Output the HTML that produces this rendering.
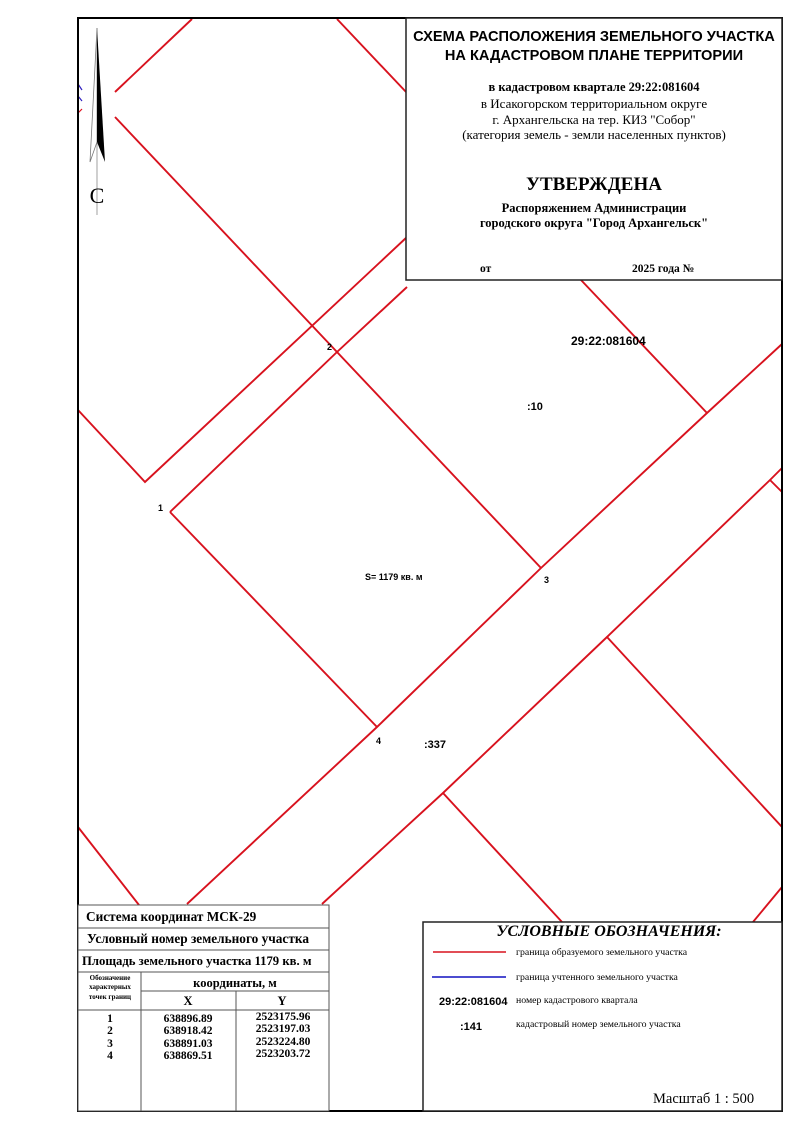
<!DOCTYPE html>
<html><head><meta charset="utf-8"><style>
html,body{margin:0;padding:0;background:#fff;}
svg{display:block;}
.s{font-family:"Liberation Serif",serif;}
.a{font-family:"Liberation Sans",sans-serif;}
</style></head><body>
<svg width="800" height="1131" viewBox="0 0 800 1131" xmlns="http://www.w3.org/2000/svg">
<rect width="800" height="1131" fill="#fff"/>
<g stroke="#d8121e" stroke-width="1.9" fill="none">
<line x1="115" y1="92" x2="192" y2="19"/>
<polyline points="115,117 337,352 541,568"/>
<line x1="337" y1="19" x2="407" y2="93"/>
<polyline points="78,410 145,482 407,237"/>
<polyline points="170,512 337,352 407,287"/>
<polyline points="170,512 377,727"/>
<polyline points="187,904 377,727 541,568 707,413 782,344"/>
<line x1="581" y1="280" x2="707" y2="413"/>
<polyline points="322,904 443,793 607,637 770,480 782,468"/>
<line x1="770" y1="480" x2="782" y2="492"/>
<line x1="607" y1="637" x2="782" y2="827"/>
<line x1="443" y1="793" x2="562" y2="922"/>
<line x1="782" y1="887" x2="753" y2="922"/>
<line x1="78" y1="827" x2="139" y2="905"/>
</g>
<g stroke="#3020c0" stroke-width="1.2" fill="none">
<path d="M78,84 L82,90"/><path d="M78,96 L82,101"/>
</g>
<path d="M78,113 L82,109" stroke="#e0101e" stroke-width="1.2"/>
<line x1="97" y1="28" x2="97" y2="215" stroke="#888" stroke-width="0.8"/>
<polygon points="97,28 105,162 97,142" fill="#000"/>
<polyline points="97,28 90,162 97,142" fill="none" stroke="#777" stroke-width="0.8"/>
<text x="97" y="203" class="s" font-size="22" text-anchor="middle">С</text>
<rect x="78" y="18" width="704" height="1093" fill="none" stroke="#000" stroke-width="2"/>
<rect x="406" y="18" width="376" height="262" fill="#fff" stroke="#222" stroke-width="1.5"/>
<g text-anchor="middle">
<text x="594" y="41" class="a" font-size="14.6" font-weight="bold">СХЕМА РАСПОЛОЖЕНИЯ ЗЕМЕЛЬНОГО УЧАСТКА</text>
<text x="594" y="60" class="a" font-size="14.6" font-weight="bold">НА КАДАСТРОВОМ ПЛАНЕ ТЕРРИТОРИИ</text>
<text x="594" y="91" class="s" font-size="12.5" font-weight="bold">в кадастровом квартале 29:22:081604</text>
<text x="594" y="108" class="s" font-size="13">в Исакогорском территориальном округе</text>
<text x="594" y="124" class="s" font-size="13">г. Архангельска на тер. КИЗ "Собор"</text>
<text x="594" y="139" class="s" font-size="13">(категория земель - земли населенных пунктов)</text>
<text x="594" y="190" class="s" font-size="19" font-weight="bold">УТВЕРЖДЕНА</text>
<text x="594" y="212" class="s" font-size="12.5" font-weight="bold">Распоряжением Администрации</text>
<text x="594" y="227" class="s" font-size="12.5" font-weight="bold">городского округа "Город Архангельск"</text>
</g>
<text x="480" y="272" class="s" font-size="11.5" font-weight="bold">от</text>
<text x="632" y="272" class="s" font-size="11.5" font-weight="bold">2025 года №</text>
<g class="a" font-size="9" font-weight="bold">
<text x="327" y="350">2</text>
<text x="158" y="511">1</text>
<text x="544" y="583">3</text>
<text x="376" y="744">4</text>
<text x="365" y="580">S= 1179 кв. м</text>
</g>
<text x="571" y="345" class="a" font-size="12" font-weight="bold">29:22:081604</text>
<text x="527" y="410" class="a" font-size="11" font-weight="bold">:10</text>
<text x="424" y="748" class="a" font-size="11" font-weight="bold">:337</text>
<rect x="78" y="905" width="251" height="206" fill="#fff" stroke="#555" stroke-width="1"/>
<g stroke="#555" stroke-width="1">
<line x1="78" y1="928" x2="329" y2="928"/>
<line x1="78" y1="950" x2="329" y2="950"/>
<line x1="78" y1="972" x2="329" y2="972"/>
<line x1="141" y1="991" x2="329" y2="991"/>
<line x1="78" y1="1010" x2="329" y2="1010"/>
<line x1="141" y1="972" x2="141" y2="1111"/>
<line x1="236" y1="991" x2="236" y2="1111"/>
</g>
<g class="s" font-weight="bold">
<text x="86" y="921" font-size="13.3">Система координат МСК-29</text>
<text x="87" y="943" font-size="13.3">Условный номер земельного участка</text>
<text x="82" y="965" font-size="12.7">Площадь земельного участка 1179 кв. м</text>
<g text-anchor="middle">
<text x="110" y="980" font-size="7">Обозначение</text>
<text x="110" y="989" font-size="7">характерных</text>
<text x="110" y="999" font-size="7">точек границ</text>
<text x="235" y="987" font-size="12.5">координаты, м</text>
<text x="188" y="1005" font-size="12.5">X</text>
<text x="282" y="1005" font-size="12.5">Y</text>
<g font-size="11.5">
<text x="110" y="1022">1</text><text x="188" y="1022">638896.89</text><text x="283" y="1020">2523175.96</text>
<text x="110" y="1034">2</text><text x="188" y="1034">638918.42</text><text x="283" y="1032">2523197.03</text>
<text x="110" y="1047">3</text><text x="188" y="1047">638891.03</text><text x="283" y="1045">2523224.80</text>
<text x="110" y="1059">4</text><text x="188" y="1059">638869.51</text><text x="283" y="1057">2523203.72</text>
</g></g></g>
<rect x="423" y="922" width="359" height="189" fill="#fff" stroke="#222" stroke-width="1.5"/>
<text x="609" y="936" class="s" font-size="16" font-weight="bold" font-style="italic" text-anchor="middle">УСЛОВНЫЕ ОБОЗНАЧЕНИЯ:</text>
<line x1="433" y1="952" x2="506" y2="952" stroke="#d8121e" stroke-width="1.6"/>
<line x1="432" y1="977" x2="506" y2="977" stroke="#1010c0" stroke-width="1.6"/>
<g class="s" font-size="9.8">
<text x="516" y="955">граница образуемого земельного участка</text>
<text x="516" y="980">граница учтенного земельного участка</text>
<text x="516" y="1003">номер кадастрового квартала</text>
<text x="516" y="1027">кадастровый номер земельного участка</text>
</g>
<text x="439" y="1005" class="a" font-size="11" font-weight="bold">29:22:081604</text>
<text x="460" y="1030" class="a" font-size="11" font-weight="bold">:141</text>
<text x="653" y="1103" class="s" font-size="14.5">Масштаб  1 : 500</text>
</svg>
</body></html>
